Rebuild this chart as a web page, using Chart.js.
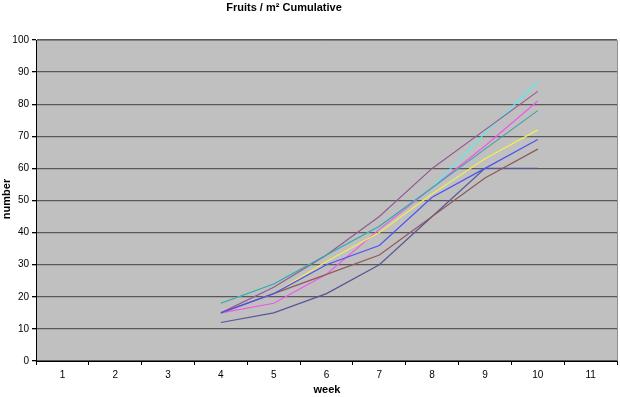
<!DOCTYPE html>
<html>
<head>
<meta charset="utf-8">
<script src="https://cdn.jsdelivr.net/npm/chart.js@4"></script>
<style>
  body { margin: 0; background: #ffffff; }
  #wrap { position: relative; width: 620px; height: 397px; }
</style>
</head>
<body>
<div id="wrap"><canvas id="myChart" width="620" height="397"></canvas></div>
<script>
// data

var weeks = ["1", "2", "3", "4", "5", "6", "7", "8", "9", "10", "11"];

var series1 = [null, null, null, 12, 15, 21, 30, 45, 60, 60, null];   // navy
var series2 = [null, null, null, 15, 18, 27, 41, 54, 67, 81, null];   // magenta
var series3 = [null, null, null, 15, 21, 31, 40, 52, 63, 72, null];   // yellow
var series4 = [null, null, null, 18, 24, 33, 42, 54, 71, 87, null];   // cyan
var series5 = [null, null, null, 15, 23, 33, 45, 60, 72, 84, null];   // purple
var series6 = [null, null, null, 15, 21, 27, 33, 45, 57, 66, null];   // dark red
var series7 = [null, null, null, 18, 24, 33, 42, 54, 66, 78, null];   // teal
var series8 = [null, null, null, 15, 21, 30, 36, 51, 60, 69, null];   // blue

var seriesColors = ["#55559a", "#f055f0", "#eeee55", "#55eeee", "#905a90", "#905858", "#45a0a0", "#5050f0"];

var chartTitle = "Fruits / m\u00b2 Cumulative";
var xTitle = "week";
var yTitle = "number";

// plugins

var plotBackground = {
    id: "plotBackground",
    beforeDraw: function(chart) {
        var ctx = chart.ctx;
        var a = chart.chartArea;
        ctx.save();
        ctx.fillStyle = "#c0c0c0";
        ctx.fillRect(a.left, a.top, a.right - a.left, a.bottom - a.top);
        ctx.strokeStyle = "#909090";
        ctx.lineWidth = 1;
        ctx.beginPath();
        ctx.moveTo(a.left, a.top + 0.5);
        ctx.lineTo(a.right + 0.5, a.top + 0.5);
        ctx.lineTo(a.right + 0.5, a.bottom);
        ctx.stroke();
        ctx.restore();
    }
};

var chartTexts = {
    id: "chartTexts",
    afterDraw: function(chart) {
        var ctx = chart.ctx;
        ctx.save();
        ctx.fillStyle = "#000000";
        ctx.font = "bold 11px 'Liberation Sans', Arial, sans-serif";
        ctx.textAlign = "center";
        ctx.textBaseline = "middle";
        ctx.fillText(chartTitle, 284, 8);
        ctx.fillText(xTitle, 327, 390);
        ctx.translate(7, 199);
        ctx.rotate(-Math.PI / 2);
        ctx.fillText(yTitle, 0, 0);
        ctx.restore();
    }
};

// set up

function makeDataset(label, data, color)
{
    return {
        label: label,
        data: data,
        borderColor: color,
        backgroundColor: color,
        borderWidth: 1.2,
        pointRadius: 0,
        tension: 0,
        spanGaps: false
    };
}

var allSeries = [series1, series2, series3, series4, series5, series6, series7, series8];
var datasets = [];
for (var i = 0; i < allSeries.length; i++) {
    var ds = makeDataset("Series" + (i + 1), allSeries[i], seriesColors[i]);
    ds.order = allSeries.length - i; // later series drawn on top, like Excel
    datasets.push(ds);
}

var ctx = document.getElementById("myChart");
var myChart = new Chart(ctx.getContext("2d"), {
    type: "line",
    data: {
        labels: weeks,
        datasets: datasets
    },
    options: {
        responsive: false,
        animation: false,
        layout: { padding: { top: 40, right: 3, left: 0, bottom: 0 } },
        plugins: {
            legend: { display: false },
            title: { display: false },
            tooltip: { enabled: false }
        },
        scales: {
            x: {
                offset: true,
                afterFit: function(scale) { scale.height = 36; },
                grid: {
                    offset: true,
                    drawOnChartArea: false,
                    drawTicks: true,
                    tickLength: 4,
                    color: "#000000"
                },
                border: { color: "#000000", width: 1 },
                ticks: {
                    color: "#000000",
                    font: { family: "'Liberation Sans', Arial, sans-serif", size: 10 },
                    padding: 4,
                    maxRotation: 0,
                    autoSkip: false
                }
            },
            y: {
                min: 0,
                max: 100,
                afterFit: function(scale) { scale.width = 36; },
                grid: {
                    color: "#585858",
                    lineWidth: 1.3,
                    drawTicks: true,
                    tickLength: 4,
                    tickColor: "#000000"
                },
                border: { color: "#000000", width: 1 },
                ticks: {
                    stepSize: 10,
                    color: "#000000",
                    font: { family: "'Liberation Sans', Arial, sans-serif", size: 10 },
                    padding: 3
                }
            }
        }
    },
    plugins: [plotBackground, chartTexts]
});
</script>
</body>
</html>
